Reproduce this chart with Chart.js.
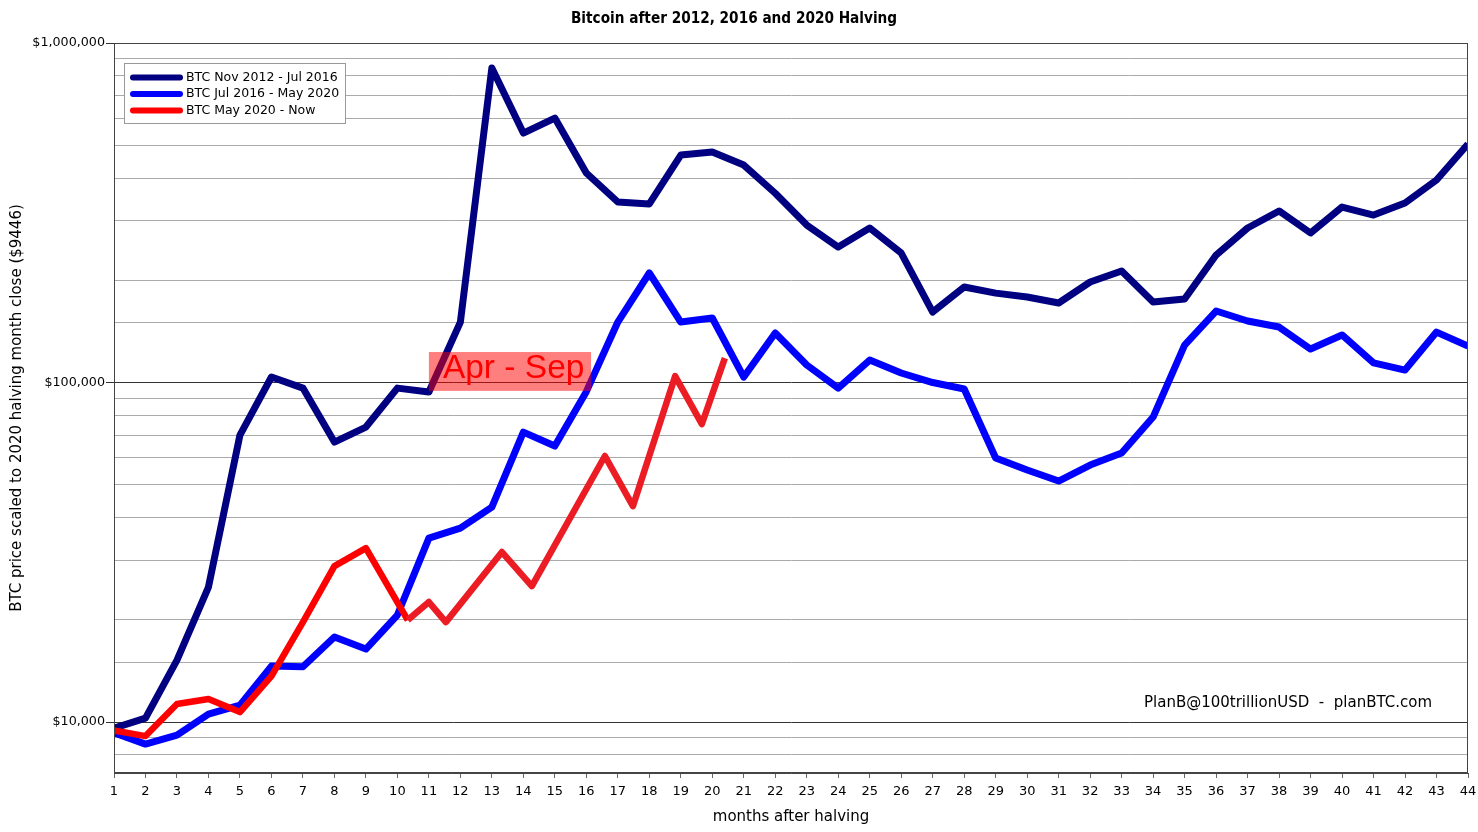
<!DOCTYPE html>
<html>
<head>
<meta charset="utf-8">
<script src="https://cdn.jsdelivr.net/npm/chart.js@4.4.0/dist/chart.umd.min.js"></script>
<style>
  html, body { margin: 0; padding: 0; background: #fff; }
  #wrap { width: 1478px; height: 832px; }
</style>
</head>
<body>
<div id="wrap"><canvas id="chartHalving"></canvas></div>
<script>
// months after halving (x axis)
const months = [1, 2, 3, 4, 5, 6, 7, 8, 9, 10, 11, 12, 13, 14, 15, 16, 17, 18, 19, 20, 21, 22,
  23, 24, 25, 26, 27, 28, 29, 30, 31, 32, 33, 34, 35, 36, 37, 38, 39, 40, 41, 42, 43, 44];

// BTC Nov 2012 - Jul 2016, scaled to $9446
const btc2012 = [9600, 10275, 15230, 24980, 70040, 103800, 96300, 66800, 73950, 96300, 93760,
  150700, 844000, 543000, 601000, 414000, 340200, 335700, 467700, 477500, 437000, 361000,
  291000, 250600, 285000, 240600, 161300, 191100, 183400, 178600, 171500, 197700, 213000,
  172700, 176200, 237400, 285200, 320100, 275700, 328800, 311400, 337800, 395000, 504100];

// BTC Jul 2016 - May 2020, scaled to $9446
const btc2016 = [9300, 8614, 9155, 10560, 11220, 14620, 14550, 17800, 16410, 20670, 34800,
  37270, 42980, 71450, 65010, 94000, 150700, 210200, 150700, 154900, 103800, 139900,
  112600, 96300, 116500, 106700, 100000, 95700, 59930, 55260, 51280, 57150, 62000,
  79130, 128950, 162400, 151800, 145700, 125500, 138100, 114200, 108800, 140800, 128100];

// BTC May 2020 - Now (monthly, then a few weekly points)
const months2020 = [1, 2, 3, 4, 5, 6, 7, 8, 9, 10.33, 11, 11.54, 13.32, 14.27, 16.59, 17.48,
  18.82, 19.67, 20.4];
const btc2020 = [9446, 9094, 11300, 11690, 10700, 13660, 19700, 28800, 32540, 19970, 22570,
  19700, 31680, 25150, 60760, 43250, 104400, 75470, 118000];

// labelled y ticks
const yTicks = [10000, 100000, 1000000];

Chart.defaults.font.family = '"DejaVu Sans", sans-serif';
Chart.defaults.color = '#000';

const isDecade = v => yTicks.some(t => Math.abs(t - v) < 1e-6 * t);

// legend box, "Apr - Sep" label, credit and frame
const overlay = {
  id: 'overlay',
  afterDatasetsDraw(chart) {
    const { ctx, chartArea: a, scales: { x, y } } = chart;
    ctx.save();

    // Apr - Sep box
    const bx0 = x.getPixelForValue(11), bx1 = x.getPixelForValue(16.15);
    const by0 = y.getPixelForValue(123000), by1 = y.getPixelForValue(94500);
    ctx.fillStyle = 'rgba(255, 0, 0, 0.5)';
    ctx.fillRect(bx0, by0, bx1 - bx0, by1 - by0);
    ctx.fillStyle = '#ff0000';
    ctx.font = '33.5px "Liberation Sans", Arial, sans-serif';
    ctx.textBaseline = 'alphabetic';
    ctx.fillText('Apr - Sep', bx0 + 14, by1 - 13);

    // legend
    const lx = a.left + 10, ly = a.top + 20, lw = 221, lh = 60;
    ctx.fillStyle = '#fff';
    ctx.fillRect(lx, ly, lw, lh);
    ctx.strokeStyle = '#999';
    ctx.lineWidth = 1;
    ctx.strokeRect(lx + 0.5, ly + 0.5, lw, lh);
    ctx.font = '12.5px "DejaVu Sans"';
    ctx.textBaseline = 'middle';
    chart.data.datasets.forEach((ds, i) => {
      const yy = ly + 14.5 + i * 16.5;
      ctx.strokeStyle = ds.borderColor;
      ctx.lineWidth = 6;
      ctx.lineCap = 'round';
      ctx.beginPath();
      ctx.moveTo(lx + 9, yy);
      ctx.lineTo(lx + 56, yy);
      ctx.stroke();
      ctx.fillStyle = '#000';
      ctx.fillText(ds.label, lx + 62, yy);
    });

    // credit
    ctx.font = '15px "DejaVu Sans"';
    ctx.textAlign = 'right';
    ctx.fillText('PlanB@100trillionUSD  -  planBTC.com', a.right - 36, a.bottom - 70);

    // frame
    ctx.strokeStyle = '#444';
    ctx.lineWidth = 1;
    ctx.strokeRect(a.left + 0.5, a.top + 0.5, a.right - a.left - 1, a.bottom - a.top - 1);
    ctx.restore();
  }
};

const ctx = document.getElementById('chartHalving').getContext('2d');

const chartHalving = new Chart(ctx, {
  type: 'line',
  data: {
    datasets: [{
      label: 'BTC Nov 2012 - Jul 2016',
      data: months.map((m, i) => ({ x: m, y: btc2012[i] })),
      borderColor: '#000080',
      borderWidth: 7,
      order: 3
    }, {
      label: 'BTC Jul 2016 - May 2020',
      data: months.map((m, i) => ({ x: m, y: btc2016[i] })),
      borderColor: '#0000ff',
      borderWidth: 7,
      order: 2
    }, {
      label: 'BTC May 2020 - Now',
      data: months2020.map((m, i) => ({ x: m, y: btc2020[i] })),
      borderColor: '#ff0000',
      borderWidth: 6.5,
      segment: {
        borderColor: c => c.p0DataIndex >= 9 ? '#ec1c24' : '#ff0000'
      },
      order: 1
    }]
  },
  options: {
    responsive: true,
    maintainAspectRatio: false,
    animation: false,
    layout: { padding: { left: 0, right: 10, top: 0, bottom: 6 } },
    elements: {
      point: { radius: 0, hoverRadius: 0 },
      line: { tension: 0, borderJoinStyle: 'round', fill: false }
    },
    plugins: {
      legend: { display: false },
      tooltip: { enabled: false },
      title: {
        display: true,
        text: 'Bitcoin after 2012, 2016 and 2020 Halving',
        color: '#000',
        font: { family: '"DejaVu Sans Condensed", "DejaVu Sans", sans-serif', size: 15.2, weight: 'bold' },
        padding: { top: 10, bottom: 14.76 }
      }
    },
    scales: {
      x: {
        type: 'linear',
        min: 1,
        max: 44,
        afterFit: s => { s.height = 53; s.paddingLeft = 0; s.paddingRight = 0; },
        border: { display: true, color: '#444' },
        grid: { drawOnChartArea: false, drawTicks: true, tickLength: 5, tickColor: '#666' },
        ticks: { stepSize: 1, autoSkip: false, maxRotation: 0, padding: 6, font: { size: 13 } },
        title: {
          display: true,
          text: 'months after halving',
          font: { size: 15 },
          padding: { top: 4, bottom: 0 }
        }
      },
      y: {
        type: 'logarithmic',
        min: 7080,
        max: 1000000,
        afterFit: s => { s.width = 114; },
        border: { display: true, color: '#444' },
        grid: {
          color: c => isDecade(c.tick.value) ? '#333' : '#aaa',
          tickColor: c => isDecade(c.tick.value) ? '#333' : 'rgba(0,0,0,0)',
          tickLength: 8
        },
        ticks: {
          autoSkip: false,
          padding: 1,
          font: { size: 12.7 },
          callback: v => isDecade(v) ? '$' + Math.round(v).toLocaleString('en-US') : ''
        },
        title: {
          display: true,
          text: 'BTC price scaled to 2020 halving month close ($9446)',
          font: { size: 15 },
          padding: { top: 8.5 }
        }
      }
    }
  },
  plugins: [overlay]
});
</script>
</body>
</html>
